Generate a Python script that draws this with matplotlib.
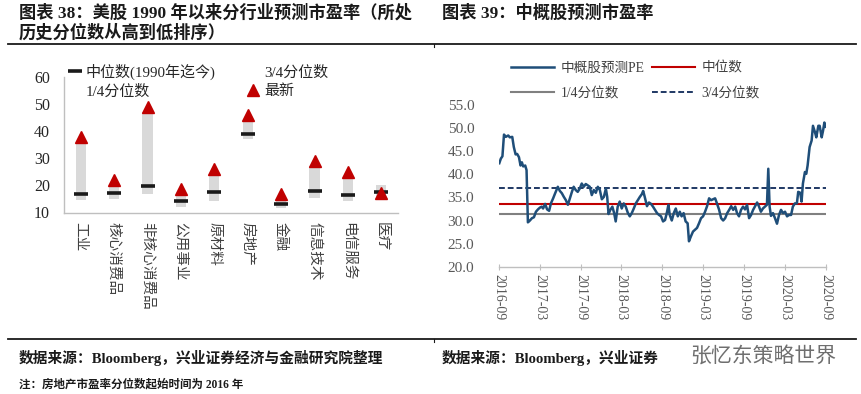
import matplotlib
matplotlib.use('Agg')
import matplotlib.pyplot as plt
import matplotlib.dates as mdates
import pandas as pd
import numpy as np
from matplotlib.lines import Line2D

FONT = ['Liberation Serif', 'Noto Sans CJK SC']
plt.rcParams['font.family'] = FONT
plt.rcParams['axes.unicode_minus'] = False

# ---------------- data: left chart ----------------
categories = ['工业', '核心消费品', '非核心消费品', '公用事业', '原材料',
              '房地产', '金融', '信息技术', '电信服务', '医疗']
q1_pe = [14.7, 15.0, 16.9, 12.1, 14.2, 37.0, 11.7, 15.4, 14.2, 15.7]
q3_pe = [35.8, 20.1, 47.0, 16.8, 24.3, 43.8, 15.2, 27.1, 23.0, 20.1]
median_pe = [16.7, 17.3, 19.7, 14.4, 17.6, 39.1, 13.1, 17.8, 16.5, 17.5]
latest_pe = [37.9, 22.0, 49.1, 18.5, 26.2, 45.8, 17.0, 29.0, 24.8, 17.3]
left_yticks = [10, 20, 30, 40, 50, 60]

# ---------------- data: right chart ----------------
pe_dates = [
    '2016-09-01', '2016-09-08', '2016-09-15', '2016-09-22', '2016-09-30', '2016-10-11', '2016-10-18',
    '2016-10-29', '2016-11-05', '2016-11-13', '2016-11-20', '2016-11-28', '2016-12-05', '2016-12-11',
    '2016-12-17', '2016-12-26', '2017-01-01', '2017-01-07', '2017-01-16', '2017-01-25', '2017-02-03',
    '2017-02-12', '2017-02-21', '2017-03-02', '2017-03-10', '2017-03-16', '2017-03-25', '2017-04-03',
    '2017-04-12', '2017-04-20', '2017-04-30', '2017-05-09', '2017-05-21', '2017-05-30', '2017-06-08',
    '2017-06-17', '2017-06-26', '2017-07-05', '2017-07-14', '2017-07-23', '2017-07-31', '2017-08-09',
    '2017-08-18', '2017-08-27', '2017-09-05', '2017-09-14', '2017-09-23', '2017-10-02', '2017-10-11',
    '2017-10-20', '2017-10-29', '2017-11-07', '2017-11-16', '2017-11-25', '2017-12-04', '2017-12-13',
    '2017-12-22', '2017-12-28', '2018-01-03', '2018-01-11', '2018-01-20', '2018-01-28', '2018-02-04',
    '2018-02-13', '2018-02-22', '2018-03-03', '2018-03-12', '2018-03-21', '2018-03-30', '2018-04-08',
    '2018-04-17', '2018-04-26', '2018-05-05', '2018-05-14', '2018-05-23', '2018-06-01', '2018-06-07',
    '2018-06-14', '2018-06-24', '2018-07-03', '2018-07-12', '2018-07-21', '2018-07-30', '2018-08-08',
    '2018-08-17', '2018-08-26', '2018-09-04', '2018-09-13', '2018-09-22', '2018-09-28', '2018-10-04',
    '2018-10-13', '2018-10-22', '2018-10-31', '2018-11-09', '2018-11-18', '2018-11-26', '2018-12-05',
    '2018-12-14', '2018-12-23', '2018-12-29', '2019-01-07', '2019-01-16', '2019-01-25', '2019-02-03',
    '2019-02-12', '2019-02-21', '2019-03-02', '2019-03-11', '2019-03-20', '2019-03-29', '2019-04-07',
    '2019-04-16', '2019-04-25', '2019-05-04', '2019-05-13', '2019-05-22', '2019-05-31', '2019-06-09',
    '2019-06-18', '2019-06-27', '2019-07-06', '2019-07-15', '2019-07-24', '2019-08-01', '2019-08-10',
    '2019-08-19', '2019-08-28', '2019-09-06', '2019-09-15', '2019-09-24', '2019-10-03', '2019-10-12',
    '2019-10-21', '2019-10-30', '2019-11-07', '2019-11-16', '2019-11-25', '2019-12-04', '2019-12-13',
    '2019-12-19', '2019-12-25', '2019-12-31', '2020-01-09', '2020-01-18', '2020-01-27', '2020-02-05',
    '2020-02-14', '2020-02-23', '2020-03-03', '2020-03-12', '2020-03-21', '2020-03-30', '2020-04-07',
    '2020-04-16', '2020-04-25', '2020-05-01', '2020-05-10', '2020-05-16', '2020-05-22', '2020-05-31',
    '2020-06-06', '2020-06-12', '2020-06-21', '2020-06-30', '2020-07-06', '2020-07-15', '2020-07-21',
    '2020-07-30', '2020-08-05', '2020-08-14', '2020-08-20', '2020-08-26', '2020-09-01']
pe_values = [
    42.4, 43.4, 43.9, 48.6, 48.1, 48.4, 48.0,
    48.1, 45.9, 44.3, 44.4, 43.7, 41.9, 42.6,
    41.7, 41.9, 40.9, 29.6, 30.0, 30.5, 30.7,
    31.9, 32.4, 32.8, 33.0, 32.6, 33.6, 32.4,
    32.1, 33.7, 34.8, 35.9, 37.3, 36.4, 35.9,
    35.1, 34.4, 33.4, 34.8, 36.2, 37.3, 36.6,
    36.2, 36.9, 38.0, 37.3, 37.9, 37.6, 37.3,
    35.5, 36.6, 36.0, 37.3, 36.6, 34.6, 35.1,
    36.9, 35.1, 31.4, 32.3, 33.0, 31.6, 29.8,
    33.0, 34.1, 32.6, 33.7, 33.0, 31.7, 30.9,
    31.6, 32.6, 33.7, 34.4, 35.1, 35.7, 36.4,
    35.1, 33.1, 33.9, 33.6, 33.0, 32.3, 31.6,
    31.2, 30.9, 29.8, 30.1, 31.9, 33.4, 31.2,
    30.0, 31.6, 32.6, 30.9, 31.9, 30.9, 31.6,
    29.8, 29.4, 25.5, 26.6, 27.6, 28.0, 28.4,
    29.4, 30.5, 30.9, 31.9, 33.1, 34.8, 34.4,
    34.6, 34.8, 33.6, 32.3, 30.5, 30.0, 30.5,
    31.6, 32.3, 33.1, 32.3, 33.0, 31.6, 30.9,
    32.3, 33.0, 32.4, 33.4, 30.5, 31.2, 32.3,
    33.1, 33.9, 33.1, 31.9, 32.6, 33.0, 33.4,
    41.2, 33.0, 31.0, 31.6, 30.5, 29.3, 31.2,
    32.3, 31.6, 31.9, 30.9, 31.2, 31.2, 33.0,
    33.7, 33.7, 36.2, 36.0, 34.1, 38.0, 40.5,
    40.1, 41.9, 45.9, 47.3, 50.5, 49.1, 48.0,
    50.5, 50.5, 48.0, 49.4, 51.2, 50.3]
pe_median = 33.6
pe_q1 = 31.5
pe_q3 = 37.1
right_yticks = [20, 25, 30, 35, 40, 45, 50, 55]
right_xticks = ['2016-09', '2017-03', '2017-09', '2018-03', '2018-09',
                '2019-03', '2019-09', '2020-03', '2020-09']

W, H = 862, 394
fig = plt.figure(figsize=(W / 100, H / 100), dpi=100)
fig.patch.set_facecolor('white')


def fx(px):
    return px / W


def fy(py):
    return 1 - py / H


# ---------------- titles & decorations ----------------
fig.text(fx(19), fy(13), '图表 38：美股 1990 年以来分行业预测市盈率（所处',
         fontsize=12.4, fontweight='bold', va='center', ha='left', color='#1a1a1a')
fig.text(fx(19), fy(33), '历史分位数从高到低排序）',
         fontsize=12.4, fontweight='bold', va='center', ha='left', color='#1a1a1a')
fig.text(fx(442), fy(13), '图表 39：中概股预测市盈率',
         fontsize=12.4, fontweight='bold', va='center', ha='left', color='#1a1a1a')

for yy in (44, 339):
    fig.add_artist(Line2D([fx(8), fx(856)], [fy(yy), fy(yy)], color='#1a1a1a', lw=1.3))
    fig.add_artist(Line2D([fx(434), fx(434)], [fy(yy), fy(yy + 3)], color='#1a1a1a', lw=0.8))

fig.text(fx(19), fy(358), '数据来源：Bloomberg，兴业证券经济与金融研究院整理', fontsize=10.6,
         fontweight='bold', va='center', ha='left', color='#1a1a1a')
fig.text(fx(442), fy(358), '数据来源：Bloomberg，兴业证券', fontsize=10.6,
         fontweight='bold', va='center', ha='left', color='#1a1a1a')
fig.text(fx(19), fy(385), '注：房地产市盈率分位数起始时间为 2016 年', fontsize=8.3,
         fontweight='bold', va='center', ha='left', color='#1a1a1a')
fig.text(fx(690), fy(357), '张忆东策略世界', fontsize=15, va='center', ha='left',
         color='#6f6f6f')

# ---------------- left chart ----------------
axL = fig.add_axes([fx(64), fy(212.5), fx(398 - 64), (212.5 - 77) / H])
x = np.arange(len(categories))
q1a = np.array(q1_pe)
q3a = np.array(q3_pe)
axL.bar(x, q3a - q1a, bottom=q1a, width=0.3, color='#D9D9D9', zorder=2)
h_med, = axL.plot(x, median_pe, ls='none', marker='_', ms=10.5, mew=2.6,
                  color='#1a1a1a', zorder=3, label='中位数(1990年迄今)')
h_lat, = axL.plot(x, latest_pe, ls='none', marker='^', ms=8, color='#C00000',
                  mec='#C00000', zorder=4, label='最新')
axL.set_xlim(-0.5, len(categories) - 0.5)
axL.set_ylim(10, 60)
axL.set_yticks(left_yticks)
axL.set_xticks(x)
axL.set_xticklabels(categories, rotation=-90, ha='center', va='top',
                    fontsize=10.5, color='#404040', family=['Noto Sans CJK SC'])
axL.tick_params(axis='x', length=0, pad=7)
axL.tick_params(axis='y', length=0, pad=10, labelsize=11.5, labelcolor='#262626')
for s in ('top', 'right'):
    axL.spines[s].set_visible(False)
for s in ('left', 'bottom'):
    axL.spines[s].set_color('#BFBFBF')
    axL.spines[s].set_linewidth(1.0)

h_q1 = Line2D([], [], ls='none', label='1/4分位数')
h_q3 = Line2D([], [], ls='none', label='3/4分位数')
legL = axL.legend(handles=[h_med, h_q1, h_q3, h_lat], ncol=2, frameon=False,
                  loc='upper left', bbox_to_anchor=(fx(62), fy(56)),
                  bbox_transform=fig.transFigure, fontsize=10.8, borderpad=0,
                  handlelength=0.8, handletextpad=0.3, columnspacing=2.1,
                  labelspacing=0.35, labelcolor='#262626')

# ---------------- right chart ----------------
axR = fig.add_axes([fx(499.3), fy(266.7), fx(825.7 - 499.3), (266.7 - 105) / H])
dates = pd.to_datetime(pe_dates)
h_pe, = axR.plot(dates, pe_values, color='#1F4E79', lw=1.8, label='中概股预测PE', zorder=3)
h_rm = axR.axhline(pe_median, color='#C00000', lw=1.5, label='中位数', zorder=2)
h_r1 = axR.axhline(pe_q1, color='#808080', lw=1.5, label='1/4分位数', zorder=2)
h_r3 = axR.axhline(pe_q3, color='#1F3864', lw=1.4, ls=(0, (3, 1.5)), label='3/4分位数', zorder=2)
axR.set_xlim(pd.Timestamp('2016-09-01'), pd.Timestamp('2020-09-01'))
axR.set_ylim(20, 55)
axR.set_yticks(right_yticks)
axR.set_yticklabels([f'{v:.1f}' for v in right_yticks])
tick_dates = pd.to_datetime([t + '-01' for t in right_xticks])
axR.set_xticks(tick_dates)
axR.set_xticklabels(right_xticks, rotation=-90, ha='center', va='top')
axR.tick_params(axis='x', direction='inout', length=4, width=0.8, color='#BFBFBF',
                pad=3, labelsize=10, labelcolor='#595959')
axR.tick_params(axis='y', length=0, pad=18, labelsize=11, labelcolor='#595959')
for s in ('top', 'right', 'left'):
    axR.spines[s].set_visible(False)
axR.spines['bottom'].set_color('#BFBFBF')
axR.spines['bottom'].set_linewidth(1.0)

legR = axR.legend(handles=[h_pe, h_r1, h_rm, h_r3], ncol=2, frameon=False,
                  loc='upper left', bbox_to_anchor=(fx(504), fy(55)),
                  bbox_transform=fig.transFigure, fontsize=9.8, borderpad=0,
                  handlelength=3.2, handletextpad=0.45, columnspacing=0.55,
                  labelspacing=0.9, labelcolor='#404040')

fig.savefig('out.png', dpi=100, facecolor='white')
